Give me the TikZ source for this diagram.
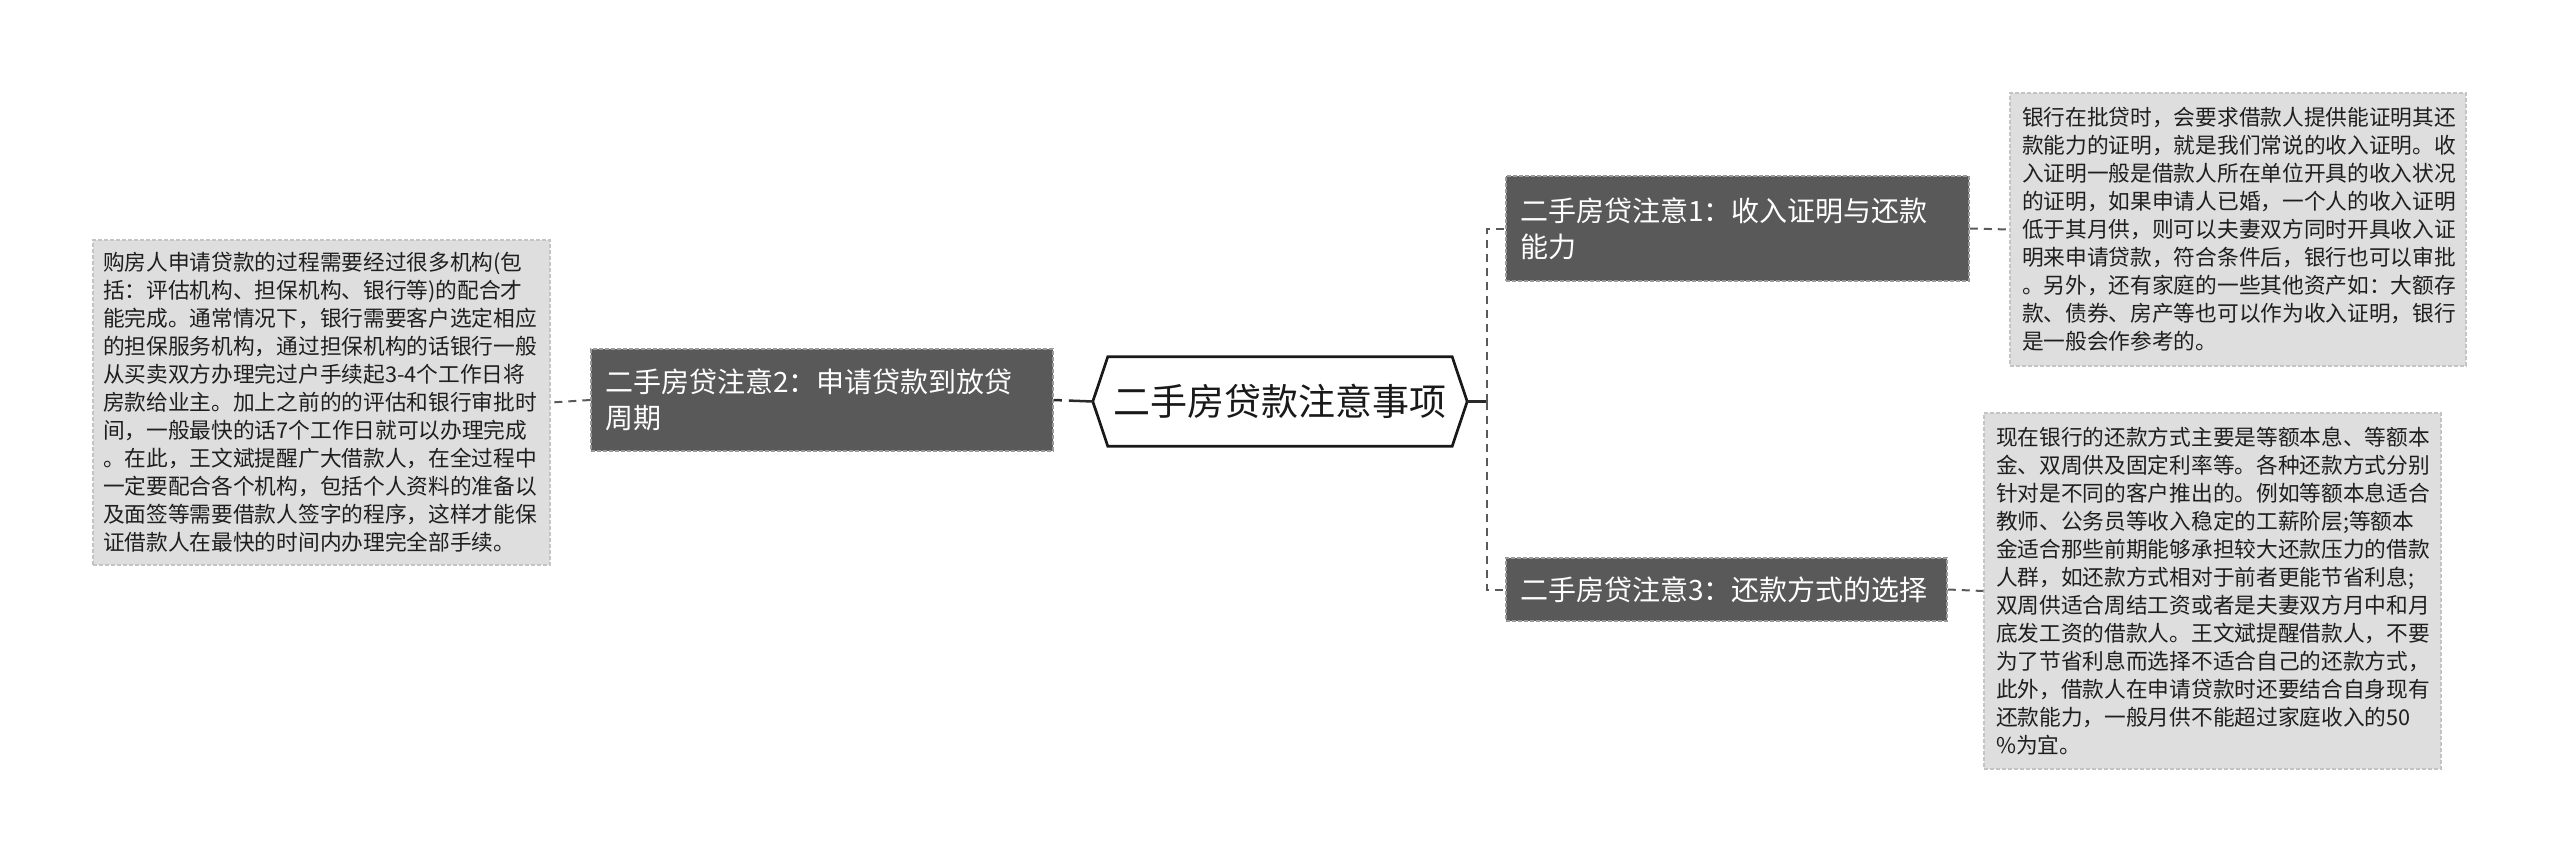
\documentclass[tikz,border=0pt]{standalone}
\usepackage{fontspec}
\setmainfont{Noto Sans CJK SC}
\newfontfamily\cjkf{Noto Sans CJK SC}
\definecolor{darkbox}{HTML}{595959}
\definecolor{darkborder}{HTML}{9A9A9A}
\definecolor{lightbox}{HTML}{DEDEDE}
\definecolor{lightborder}{HTML}{C4C4C4}
\definecolor{conncol}{HTML}{5A5A5A}
\definecolor{maincol}{HTML}{2A2A2A}
\tikzset{
  topicbox/.style={draw=darkborder, fill=darkbox, line width=1.5pt, dash pattern=on 4pt off 2pt,
    text=white, align=left, inner xsep=14pt, inner ysep=0pt,
    font=\cjkf\fontsize{28}{36}\selectfont},
  notebox/.style={draw=lightborder, fill=lightbox, line width=1.5pt, dash pattern=on 4pt off 2pt,
    text=black!88, align=left, inner xsep=10pt, inner ysep=0pt,
    font=\cjkf\fontsize{21.7}{28}\selectfont},
  conn/.style={draw=conncol, line width=2pt, dash pattern=on 8pt off 6pt},
  solidconn/.style={draw=maincol, line width=2.5pt},
}
\begin{document}
\begin{tikzpicture}[x=1pt,y=-1pt]
\useasboundingbox (0,0) rectangle (2560,864);
% center
\node[minimum width=374pt, minimum height=89pt, inner sep=0pt, text=black!90,
  font=\cjkf\fontsize{37}{40}\selectfont] (hex) at (1280,401.5) {二手房贷款注意事项};
\draw[line width=2.7pt, black!90, fill=none, line join=miter]
  (hex.west) -- ([xshift=15pt]hex.north west) -- ([xshift=-15pt]hex.north east)
  -- (hex.east) -- ([xshift=-15pt]hex.south east) -- ([xshift=15pt]hex.south west) -- cycle;
% topics
\node[topicbox, text width=434pt, minimum height=102pt] (t2) at (822,400)
  {二手房贷注意2：申请贷款到放贷\\周期};
\node[topicbox, text width=435pt, minimum height=105pt] (t1) at (1737.5,228.5)
  {二手房贷注意1：收入证明与还款\\能力};
\node[topicbox, text width=413pt, minimum height=63pt] (t3) at (1726.5,589.5)
  {二手房贷注意3：还款方式的选择};
% notes
\node[notebox, text width=437pt, minimum height=325pt] (n2) at (321.5,402.5)
  {购房人申请贷款的过程需要经过很多机构(包\\
   括：评估机构、担保机构、银行等)的配合才\\
   能完成。通常情况下，银行需要客户选定相应\\
   的担保服务机构，通过担保机构的话银行一般\\
   从买卖双方办理完过户手续起3-4个工作日将\\
   房款给业主。加上之前的的评估和银行审批时\\
   间，一般最快的话7个工作日就可以办理完成\\
   。在此，王文斌提醒广大借款人，在全过程中\\
   一定要配合各个机构，包括个人资料的准备以\\
   及面签等需要借款人签字的程序，这样才能保\\
   证借款人在最快的时间内办理完全部手续。};
\node[notebox, text width=432pt, inner xsep=12pt, minimum height=273pt] (n1) at (2238,229.5)
  {银行在批贷时，会要求借款人提供能证明其还\\
   款能力的证明，就是我们常说的收入证明。收\\
   入证明一般是借款人所在单位开具的收入状况\\
   的证明，如果申请人已婚，一个人的收入证明\\
   低于其月供，则可以夫妻双方同时开具收入证\\
   明来申请贷款，符合条件后，银行也可以审批\\
   。另外，还有家庭的一些其他资产如：大额存\\
   款、债券、房产等也可以作为收入证明，银行\\
   是一般会作参考的。};
\node[notebox, text width=433pt, inner xsep=12pt, minimum height=356pt] (n3) at (2212.5,591)
  {现在银行的还款方式主要是等额本息、等额本\\
   金、双周供及固定利率等。各种还款方式分别\\
   针对是不同的客户推出的。例如等额本息适合\\
   教师、公务员等收入稳定的工薪阶层;等额本\\
   金适合那些前期能够承担较大还款压力的借款\\
   人群，如还款方式相对于前者更能节省利息;\\
   双周供适合周结工资或者是夫妻双方月中和月\\
   底发工资的借款人。王文斌提醒借款人，不要\\
   为了节省利息而选择不适合自己的还款方式，\\
   此外，借款人在申请贷款时还要结合自身现有\\
   还款能力，一般月供不能超过家庭收入的50\\
   \%为宜。};
% connectors
\coordinate (trunk) at (1487,401.5);
\draw[solidconn, dash pattern=on 24pt off 7pt on 9pt off 0pt] (hex.west) -- (t2.east);
\draw[solidconn] (hex.east) -- (trunk);
\draw[conn] (trunk) |- (t1.west);
\draw[conn] (trunk) |- (t3.west);
\draw[conn] (t2.west) -- (n2.east);
\draw[conn] (t1.east) -- (n1.west);
\draw[conn] (t3.east) -- (n3.west);
\end{tikzpicture}
\end{document}
